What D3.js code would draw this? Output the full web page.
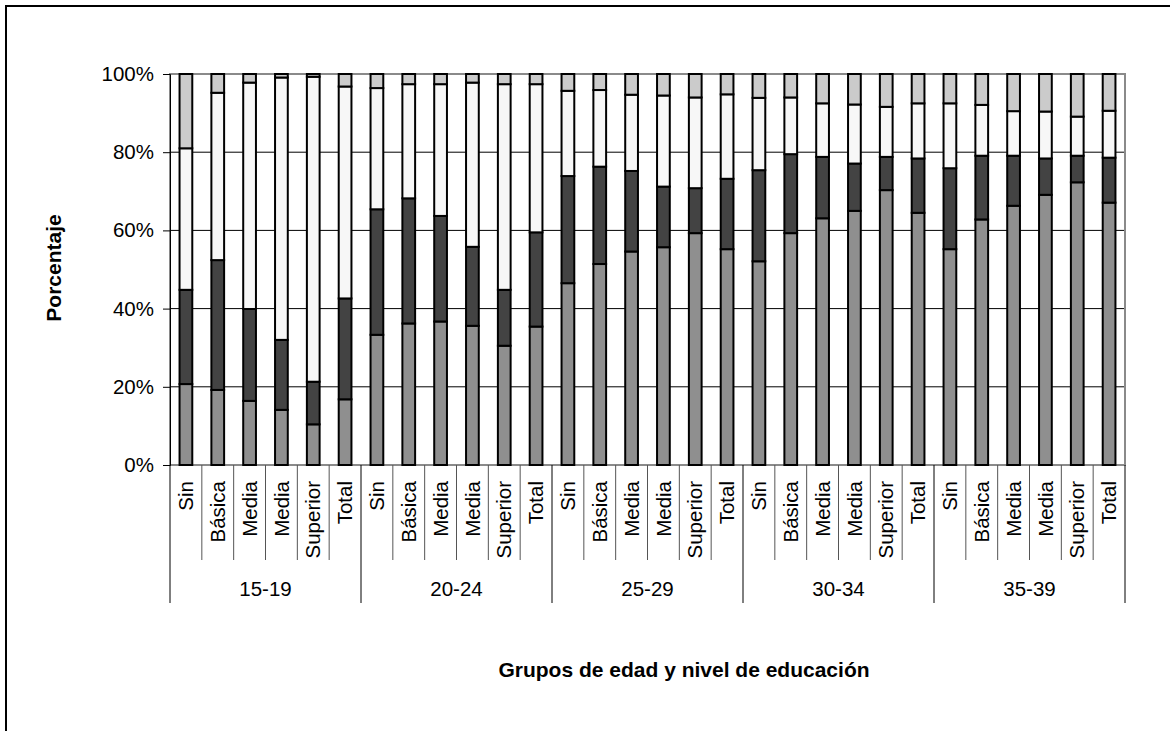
<!DOCTYPE html>
<html>
<head>
<meta charset="utf-8">
<script src="https://cdn.jsdelivr.net/npm/d3@7"></script>
<style>
  html, body { margin: 0; padding: 0; background: #fff; }
  svg { display: block; font-family: "Liberation Sans", Arial, sans-serif; }
</style>
</head>
<body>
<svg id="chart" width="1170" height="731"></svg>
<script>
const groups = ["15-19", "20-24", "25-29", "30-34", "35-39"];
const levels = ["Sin", "Básica", "Media", "Media", "Superior", "Total"];
const yTicks = [0, 0.2, 0.4, 0.6, 0.8, 1.0];

// Series values (percent), 30 bars: 5 age groups x 6 education levels
const serie1 = [20.7, 19.2, 16.4, 14.1, 10.4, 16.8,
                33.3, 36.2, 36.7, 35.6, 30.5, 35.4,
                46.5, 51.4, 54.6, 55.7, 59.3, 55.2,
                52.1, 59.3, 63.1, 65.0, 70.3, 64.5,
                55.2, 62.8, 66.3, 69.1, 72.3, 67.1];
const serie2 = [24.1, 33.2, 23.5, 17.9, 10.9, 25.8,
                32.1, 32.0, 27.0, 20.2, 14.3, 24.1,
                27.4, 24.9, 20.6, 15.5, 11.5, 18.0,
                23.3, 20.2, 15.7, 12.1, 8.5, 13.9,
                20.7, 16.3, 12.8, 9.3, 6.8, 11.5];
const serie3 = [36.2, 42.8, 57.9, 67.1, 78.0, 54.2,
                31.0, 29.2, 33.7, 42.0, 52.6, 37.9,
                21.8, 19.6, 19.5, 23.3, 23.2, 21.6,
                18.5, 14.5, 13.7, 15.1, 12.8, 14.1,
                16.6, 13.0, 11.4, 12.0, 10.0, 12.0];
const serie4 = [19.0, 4.8, 2.2, 0.9, 0.7, 3.2,
                3.6, 2.6, 2.6, 2.2, 2.6, 2.6,
                4.3, 4.1, 5.3, 5.5, 6.0, 5.2,
                6.1, 6.0, 7.5, 7.8, 8.4, 7.5,
                7.5, 7.9, 9.5, 9.6, 10.9, 9.4];
const seriesKeys = ["s1", "s2", "s3", "s4"];
const seriesColors = ["#8f8f8f", "#434343", "#f7f7f7", "#cbcbcb"];

(function () {
const rows = [];
groups.forEach((g, gi) => levels.forEach((l, li) => {
  const i = gi * levels.length + li;
  const tot = serie1[i] + serie2[i] + serie3[i] + serie4[i];
  rows.push({ idx: i, group: g, level: l,
    s1: serie1[i] / tot, s2: serie2[i] / tot, s3: serie3[i] / tot, s4: serie4[i] / tot });
}));

const svg = d3.select("#chart");
const pLeft = 170, pRight = 1125, pTop = 74, pBottom = 465;
const FONT = 20.5;

// outer border
svg.append("rect").attr("x", 6).attr("y", 6).attr("width", 1180).attr("height", 740)
  .attr("fill", "none").attr("stroke", "#000").attr("stroke-width", 2);

const x = d3.scaleBand().domain(rows.map(d => d.idx)).range([pLeft, pRight])
  .paddingInner(0.6).paddingOuter(0.3);
const step = x.step();
const y = d3.scaleLinear().domain([0, 1]).range([pBottom, pTop]);

// gridlines
svg.append("g").selectAll("line").data(yTicks.filter(t => t > 0 && t < 1)).join("line")
  .attr("x1", pLeft).attr("x2", pRight)
  .attr("y1", d => y(d)).attr("y2", d => y(d))
  .attr("stroke", "#000").attr("stroke-width", 1);

// plot area border (gray)
svg.append("rect").attr("x", pLeft).attr("y", pTop).attr("width", pRight - pLeft).attr("height", pBottom - pTop)
  .attr("fill", "none").attr("stroke", "#8a8a8a").attr("stroke-width", 2);

// y axis
const yAxis = d3.axisLeft(y).tickValues(yTicks).tickFormat(d3.format(".0%")).tickSize(7).tickPadding(9);
const yg = svg.append("g").attr("transform", `translate(${pLeft},0)`).call(yAxis);
yg.select(".domain").attr("stroke", "#000").attr("stroke-width", 1);
yg.selectAll(".tick line").attr("stroke", "#000");
yg.selectAll("text").attr("font-size", FONT).attr("font-family", "Liberation Sans, Arial, sans-serif").attr("fill", "#000");

// stacked bars
const stack = d3.stack().keys(seriesKeys);
const stacked = stack(rows);
svg.append("g").selectAll("g").data(stacked).join("g")
  .attr("fill", (d, i) => seriesColors[i])
  .selectAll("rect").data(d => d).join("rect")
  .attr("x", d => x(d.data.idx))
  .attr("width", x.bandwidth())
  .attr("y", d => y(d[1]))
  .attr("height", d => y(d[0]) - y(d[1]))
  .attr("stroke", "#000").attr("stroke-width", 2);

// x axis: category labels and separators
const xg = svg.append("g");
const catSepBottom = 560, grpSepBottom = 603;
const bounds = d3.range(rows.length + 1);
xg.selectAll("line.sep").data(bounds).join("line")
  .attr("class", "sep")
  .attr("x1", i => pLeft + i * step).attr("x2", i => pLeft + i * step)
  .attr("y1", pBottom).attr("y2", i => (i % levels.length === 0) ? grpSepBottom : catSepBottom)
  .attr("stroke", i => (i % levels.length === 0) ? "#000" : "#555")
  .attr("stroke-width", 1);

xg.selectAll("text.cat").data(rows).join("text")
  .attr("class", "cat")
  .attr("transform", d => `translate(${x(d.idx) + x.bandwidth() / 2},481) rotate(-90)`)
  .attr("text-anchor", "end")
  .attr("dy", "0.35em")
  .attr("font-size", FONT)
  .text(d => d.level);

xg.selectAll("text.grp").data(groups).join("text")
  .attr("class", "grp")
  .attr("x", (g, gi) => pLeft + (gi * levels.length + levels.length / 2) * step)
  .attr("y", 596)
  .attr("text-anchor", "middle")
  .attr("font-size", FONT)
  .text(g => g);

// axis titles
svg.append("text")
  .attr("transform", "translate(61,268) rotate(-90)")
  .attr("text-anchor", "middle")
  .attr("font-size", 21).attr("font-weight", "bold")
  .text("Porcentaje");

svg.append("text")
  .attr("x", 684).attr("y", 677)
  .attr("text-anchor", "middle")
  .attr("font-size", 21).attr("font-weight", "bold")
  .text("Grupos de edad y nivel de educación");
})();
</script>
</body>
</html>
